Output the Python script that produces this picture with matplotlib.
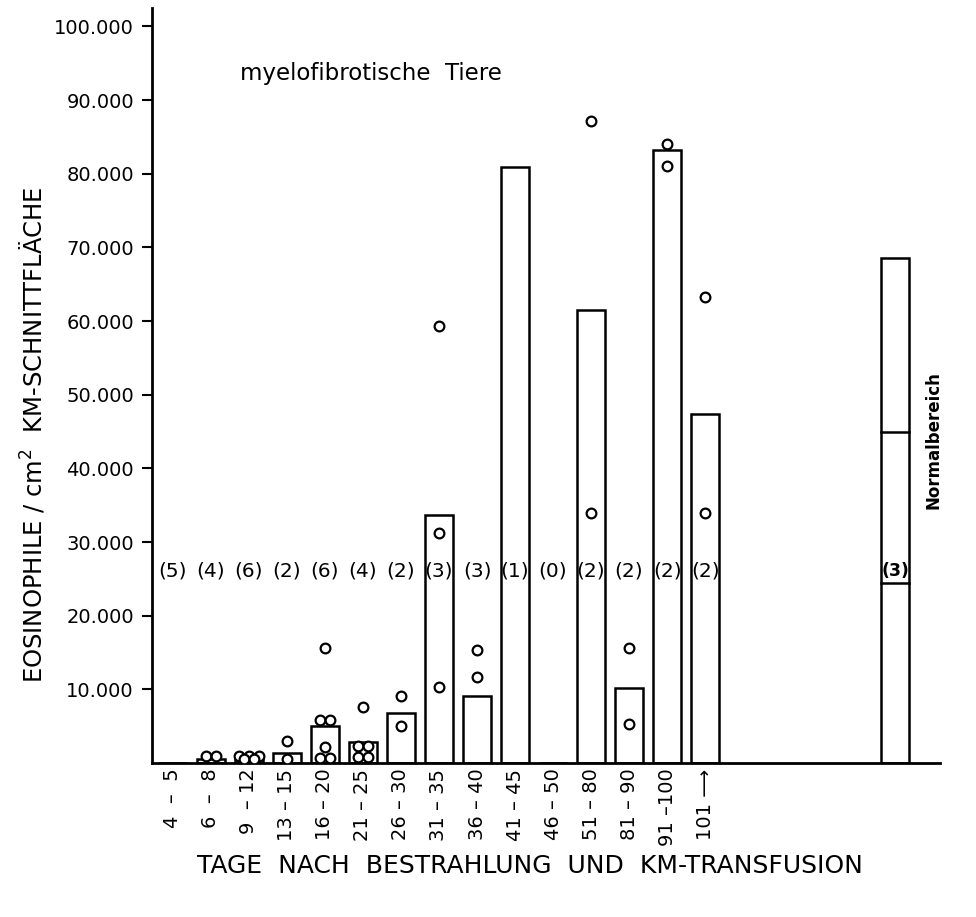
import matplotlib
matplotlib.use("Agg")
import matplotlib.pyplot as plt
import numpy as np

# ---- data ----
categories = ["4  –  5", "6  –  8", "9  – 12", "13 – 15", "16 – 20", "21 – 25", "26 – 30",
              "31 – 35", "36 – 40", "41 – 45", "46 – 50", "51 – 80", "81 – 90",
              "91 –100", "101 ⟶"]
counts = ["(5)", "(4)", "(6)", "(2)", "(6)", "(4)", "(2)", "(3)", "(3)", "(1)", "(0)",
          "(2)", "(2)", "(2)", "(2)"]
bar_means = [0, 500, 800, 1300, 5000, 2850, 6800, 33650, 9100, 80900, 0,
             61500, 10200, 83200, 47400]
points = [
    [],
    [900, 900],
    [900, 900, 900, 500, 500],
    [3000, 500],
    [15600, 5900, 5900, 2200, 700, 700],
    [7600, 2300, 2300, 800, 800],
    [9100, 5000],
    [59300, 31200, 10300],
    [15300, 11700],
    [],
    [],
    [87100, 34000],
    [15600, 5300],
    [84100, 81100],
    [63200, 34000],
]
normal_label = "Normalbereich"
normal_count = "(3)"
normal_top = 68600
normal_mean = 45000
normal_low = 24500

ytick_values = [10000, 20000, 30000, 40000, 50000, 60000, 70000, 80000, 90000, 100000]
ytick_labels = ["10.000", "20.000", "30.000", "40.000", "50.000", "60.000",
                "70.000", "80.000", "90.000", "100.000"]

# ---- figure ----
plt.rcParams['font.family'] = ['DejaVu Sans']
fig = plt.figure(figsize=(9.76, 9.17), dpi=100)
ax = fig.add_axes([152/976, 1 - 763/917, (940 - 152)/976, (763 - 8)/917])

x = np.arange(len(categories))
normal_pos = 19
bw = 0.72
lw = 1.8

ax.bar(x, bar_means, width=bw, facecolor="white", edgecolor="black", linewidth=lw, zorder=2)
ax.bar([normal_pos], [normal_top], width=bw, facecolor="white", edgecolor="black",
       linewidth=lw, zorder=2)
for yv in (normal_mean, normal_low):
    ax.plot([normal_pos - bw / 2, normal_pos + bw / 2], [yv, yv],
            color="black", linewidth=lw, zorder=3)

# circles, spread horizontally when values coincide
spacing = 0.26
for i, vals in enumerate(points):
    uniq = []
    for v in vals:
        if v not in uniq:
            uniq.append(v)
    for v in uniq:
        n = vals.count(v)
        offs = (np.arange(n) - (n - 1) / 2) * spacing
        ax.plot(x[i] + offs, [v] * n, linestyle="none", marker="o", markersize=7,
                markerfacecolor="white", markeredgecolor="black", markeredgewidth=1.6,
                zorder=4)

# counts
count_y = 26000
for i, c in enumerate(counts):
    ax.text(x[i], count_y, c, ha="center", va="center", fontsize=14.5, zorder=5)
ax.text(normal_pos, count_y, normal_count, ha="center", va="center", fontsize=12.5,
        fontweight="bold", zorder=5)

ax.text(20.0, 43800, normal_label, rotation=90, ha="center", va="center", fontsize=12,
        fontweight="bold")
ax.text(5.2, 93600, "myelofibrotische  Tiere", ha="center", va="center", fontsize=16.5)

# axes styling
ax.set_xlim(-0.55, 20.18)
ax.set_ylim(0, 102500)
ax.set_xticks(x)
ax.set_xticklabels(categories, rotation=90, fontsize=14)
ax.tick_params(axis="x", length=0, pad=4)
ax.set_yticks(ytick_values)
ax.set_yticklabels(ytick_labels, fontsize=14)
ax.tick_params(axis="y", length=7, width=1.5, direction="out", pad=6)
for s in ("top", "right"):
    ax.spines[s].set_visible(False)
for s in ("left", "bottom"):
    ax.spines[s].set_linewidth(2)

fig.text(530/976, 1 - 866/917, "TAGE  NACH  BESTRAHLUNG  UND  KM-TRANSFUSION",
         ha="center", va="center", fontsize=18)
fig.text(32/976, 1 - 435/917, "EOSINOPHILE / cm$^2$  KM-SCHNITTFLÄCHE",
         rotation=90, ha="center", va="center", fontsize=17.5)

fig.savefig("out.png", dpi=100, facecolor="white")
